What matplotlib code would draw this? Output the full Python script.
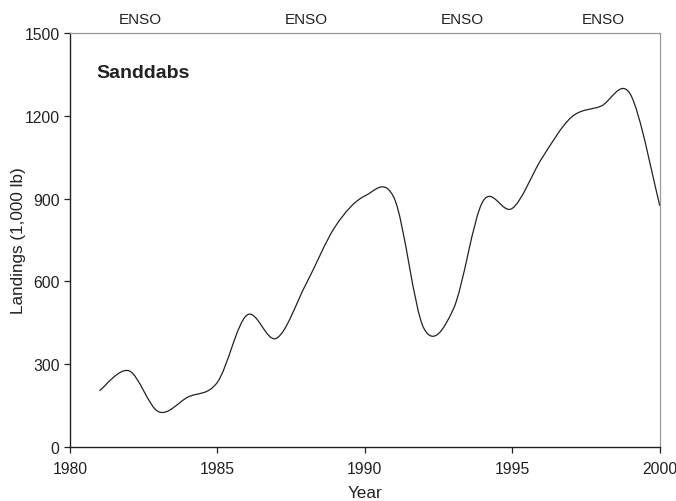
import numpy as np
import matplotlib
matplotlib.use("Agg")
import matplotlib.pyplot as plt
from matplotlib.path import Path
from matplotlib.patches import PathPatch

plt.rcParams["font.family"] = ["Liberation Sans", "DejaVu Sans"]

# Sanddab landings, thousands of lb
years = [1981, 1982, 1983, 1984, 1985, 1986, 1987, 1988, 1989, 1990,
         1991, 1992, 1993, 1994, 1995, 1996, 1997, 1998, 1999, 2000]
landings = [204, 276, 128, 181, 235, 478, 394, 590, 800, 910,
            900, 430, 500, 890, 865, 1046, 1195, 1235, 1279, 874]

enso_years = [1982.4, 1988.0, 1993.3, 1998.1]
enso_label = "ENSO"

x_ticks = [1980, 1985, 1990, 1995, 2000]
y_ticks = [0, 300, 600, 900, 1200, 1500]

INK = "#222222"
GREY = "#999999"


def smooth_path(xs, ys, t=1 / 6):
    # spreadsheet-style smoothed line: cubic Bezier through every point
    xs = np.asarray(xs, float)
    ys = np.asarray(ys, float)
    n = len(xs)
    verts = [(xs[0], ys[0])]
    codes = [Path.MOVETO]
    for i in range(n - 1):
        p0 = i - 1 if i > 0 else i
        p3 = i + 2 if i + 2 < n else i + 1
        c1 = (xs[i] + (xs[i + 1] - xs[p0]) * t, ys[i] + (ys[i + 1] - ys[p0]) * t)
        c2 = (xs[i + 1] - (xs[p3] - xs[i]) * t, ys[i + 1] - (ys[p3] - ys[i]) * t)
        verts += [c1, c2, (xs[i + 1], ys[i + 1])]
        codes += [Path.CURVE4] * 3
    return Path(verts, codes)


fig = plt.figure(figsize=(6.76, 5.02), dpi=100)
ax = fig.add_axes([0.1036, 0.1076, 0.8724, 0.8244])

ax.add_patch(PathPatch(smooth_path(years, landings), facecolor="none",
                       edgecolor=INK, linewidth=0.9))

ax.set_xlim(1980, 2000)
ax.set_ylim(0, 1500)
ax.set_xticks(x_ticks)
ax.set_yticks(y_ticks)
ax.tick_params(direction="out", length=4, width=0.9, colors=INK,
               labelsize=11.3, pad=3.5)
ax.tick_params(axis="x", pad=6)

for side in ["left", "bottom"]:
    ax.spines[side].set_color(INK)
    ax.spines[side].set_linewidth(1.0)
for side in ["top", "right"]:
    ax.spines[side].set_color(GREY)
    ax.spines[side].set_linewidth(0.9)

ax.set_xlabel("Year", fontsize=12.3, color=INK, labelpad=6.5)
ax.set_ylabel("Landings (1,000 lb)", fontsize=12.3, color=INK, labelpad=-1.5)

ax.text(0.045, 0.905, "Sanddabs", transform=ax.transAxes, fontsize=14,
        fontweight="bold", color=INK, va="center", ha="left")

for yr in enso_years:
    ax.text(yr, 1.018, enso_label, transform=ax.get_xaxis_transform(),
            fontsize=11, color=INK, ha="center", va="bottom")

fig.savefig("out.png", dpi=100, facecolor="white")
